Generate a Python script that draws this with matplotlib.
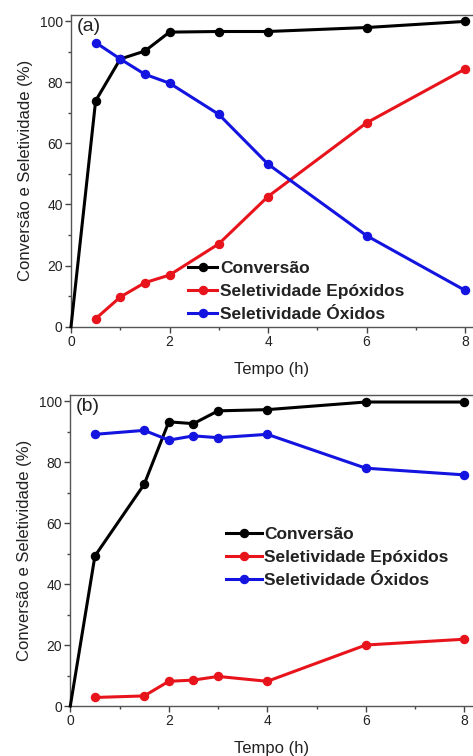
import matplotlib
matplotlib.use("Agg")
import matplotlib.pyplot as plt
from matplotlib.ticker import MultipleLocator

plt.rcParams['font.family'] = ['Liberation Sans', 'DejaVu Sans']

# Panel (a)
t_conv_a = [0, 0.5, 1, 1.5, 2, 3, 4, 6, 8]
conv_a = [0, 73.9, 87.6, 90.2, 96.4, 96.6, 96.6, 97.9, 99.9]
t_sel_a = [0.5, 1, 1.5, 2, 3, 4, 6, 8]
epox_a = [2.6, 9.7, 14.4, 16.9, 27.1, 42.6, 66.7, 84.3]
oxid_a = [93.0, 87.6, 82.6, 79.7, 69.5, 53.2, 29.8, 11.9]

# Panel (b)
t_conv_b = [0, 0.5, 1.5, 2, 2.5, 3, 4, 6, 8]
conv_b = [0, 49.2, 72.7, 93.2, 92.6, 96.8, 97.2, 99.7, 99.7]
t_sel_b = [0.5, 1.5, 2, 2.5, 3, 4, 6, 8]
epox_b = [2.8, 3.3, 8.1, 8.5, 9.7, 8.1, 20.0, 21.9]
oxid_b = [89.1, 90.4, 87.2, 88.6, 88.0, 89.1, 78.0, 75.8]

labels = ['Conversão', 'Seletividade Epóxidos', 'Seletividade Óxidos']
colors = ['#000000', '#e8141c', '#1414e0']

fig = plt.figure(figsize=(4.73, 7.56), dpi=100)
W, H = 473, 756

def make_ax(left, top, bottom, right=473):
    return fig.add_axes([left / W, 1 - bottom / H, (right - left) / W, (bottom - top) / H])

ax_a = make_ax(71, 15, 326.7)
ax_b = make_ax(70.3, 395, 706)

def style(ax, panel, xmax, ymax, legend_anchor, hl):
    ax.set_xlim(0, xmax)
    ax.set_ylim(0, ymax)
    ax.xaxis.set_major_locator(MultipleLocator(2))
    ax.xaxis.set_minor_locator(MultipleLocator(1))
    ax.yaxis.set_major_locator(MultipleLocator(20))
    ax.yaxis.set_minor_locator(MultipleLocator(10))
    ax.tick_params(which='major', direction='out', length=4, width=1, color='#444444',
                   labelsize=10, pad=2, labelcolor='#222222')
    ax.tick_params(which='minor', direction='out', length=2.5, width=1, color='#444444')
    ax.spines['right'].set_visible(False)
    for s in ['left', 'bottom', 'top']:
        ax.spines[s].set_color('#555555')
        ax.spines[s].set_linewidth(1.0)
    ax.set_xlabel('Tempo (h)', fontsize=12, labelpad=9, color='#222222')
    ax.set_ylabel('Conversão e Seletividade (%)', fontsize=12, labelpad=5, color='#222222')
    ax.text(0.014, 0.99, panel, transform=ax.transAxes, fontsize=14, va='top', ha='left',
            color='#222222')
    leg = ax.legend(loc='upper left', bbox_to_anchor=legend_anchor, frameon=False,
                    prop={'weight': 'bold', 'size': 12.5}, handlelength=hl,
                    handletextpad=0.15, labelspacing=0.45, borderaxespad=0,
                    borderpad=0)
    for t in leg.get_texts():
        t.set_color('#222222')
    return leg

for ax, tc, c, ts, e, o in [(ax_a, t_conv_a, conv_a, t_sel_a, epox_a, oxid_a),
                            (ax_b, t_conv_b, conv_b, t_sel_b, epox_b, oxid_b)]:
    ax.plot(tc, c, '-o', color=colors[0], lw=2.2, ms=5.8, label=labels[0], clip_on=False,
            zorder=3, markevery=list(range(1, len(tc))))
    ax.plot(ts, e, '-o', color=colors[1], lw=2.2, ms=5.8, label=labels[1], clip_on=False, zorder=3)
    ax.plot(ts, o, '-o', color=colors[2], lw=2.2, ms=5.8, label=labels[2], clip_on=False, zorder=3)

style(ax_a, '(a)', (473 - 71) / 49.25, 102, (0.291, 0.212), 1.7)
style(ax_b, '(b)', (473 - 70.3) / 49.25, 102, (0.387, 0.577), 2.05)

fig.savefig('out.png', dpi=100)
